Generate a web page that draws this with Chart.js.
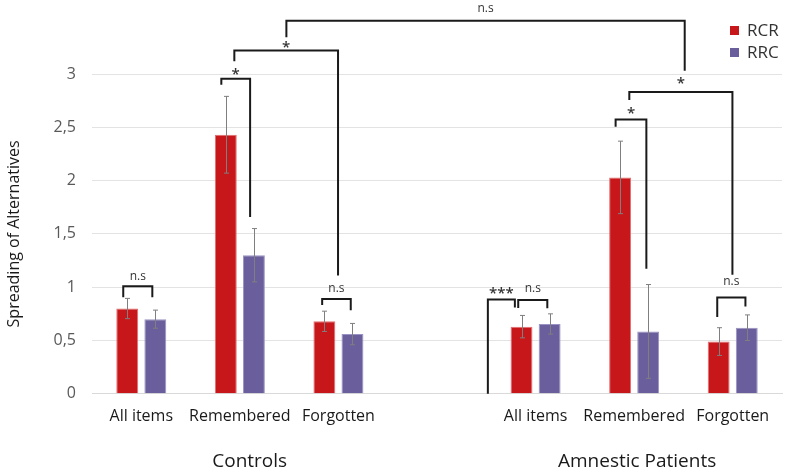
<!DOCTYPE html>
<html>
<head>
<meta charset="utf-8">
<script src="https://cdn.jsdelivr.net/npm/chart.js@4"></script>
<style>
  body { margin: 0; background: #fff; }
  #wrap { width: 787px; height: 476px; }
</style>
</head>
<body>
<div id="wrap"><canvas id="chart" width="787" height="476"></canvas></div>
<script>
const categories = ['All items', 'Remembered', 'Forgotten', '', 'All items', 'Remembered', 'Forgotten']
const groupLabels = ['Controls', 'Amnestic Patients']
const groupPositions = [1.1, 5.03]

const rcrValues = [0.80, 2.43, 0.68, null, 0.63, 2.03, 0.49]
const rcrErrors = [0.095, 0.36, 0.095, null, 0.105, 0.34, 0.13]
const rrcValues = [0.70, 1.30, 0.56, null, 0.655, 0.585, 0.62]
const rrcErrors = [0.085, 0.25, 0.10, null, 0.095, 0.44, 0.12]

// brackets: x in category units, y in data units [leftY, topY, rightY], label, label y
const brackets = [
  { x: [-0.183, 0.112], y: [0.906, 1.009, 0.906], text: 'n.s', ty: 1.10 },
  { x: [0.812, 1.104], y: [2.90, 2.956, 1.658], text: '*', ty: 3.02 },
  { x: [0.944, 1.996], y: [3.12, 3.22, 1.11], text: '*', ty: 3.27 },
  { x: [1.472, 5.513], y: [3.345, 3.50, 3.03], text: 'n.s', ty: 3.61 },
  { x: [1.835, 2.125], y: [0.834, 0.89, 0.783], text: 'n.s', ty: 0.99 },
  { x: [3.516, 3.79], y: [0, 0.884, 0.81], text: '***', ty: 0.965 },
  { x: [3.824, 4.119], y: [0.806, 0.881, 0.802], text: 'n.s', ty: 0.99 },
  { x: [4.812, 5.124], y: [2.505, 2.574, 1.173], text: '*', ty: 2.66 },
  { x: [4.951, 5.997], y: [2.756, 2.83, 1.116], text: '*', ty: 2.935 },
  { x: [5.843, 6.129], y: [0.72, 0.903, 0.82], text: 'n.s', ty: 1.05 }
]

const errorArrays = [rcrErrors, rrcErrors]

const overlayPlugin = {
  id: 'overlay',
  afterDatasetsDraw(chart) {
    const ctx = chart.ctx
    const xs = chart.scales.x
    const ys = chart.scales.y
    const x0 = xs.getPixelForValue(0)
    const step = xs.getPixelForValue(1) - x0
    const px = v => x0 + v * step

    ctx.save()
    // error bars
    ctx.strokeStyle = '#7f7f7f'
    ctx.lineWidth = 1
    chart.data.datasets.forEach((ds, d) => {
      const meta = chart.getDatasetMeta(d)
      ds.data.forEach((val, i) => {
        if (val === null) return
        const err = errorArrays[d][i]
        const x = Math.round(meta.data[i].x) + 0.5
        const top = ys.getPixelForValue(val + err)
        const bot = ys.getPixelForValue(val - err)
        ctx.beginPath()
        ctx.moveTo(x, top); ctx.lineTo(x, bot)
        ctx.moveTo(x - 2.5, top); ctx.lineTo(x + 2.5, top)
        ctx.moveTo(x - 2.5, bot); ctx.lineTo(x + 2.5, bot)
        ctx.stroke()
      })
    })

    // significance brackets
    ctx.strokeStyle = '#1a1a1a'
    ctx.lineWidth = 2
    ctx.fillStyle = '#333'
    ctx.textAlign = 'center'
    ctx.textBaseline = 'middle'
    brackets.forEach(b => {
      const xl = px(b.x[0]), xr = px(b.x[1])
      const yt = ys.getPixelForValue(b.y[1])
      ctx.beginPath()
      ctx.moveTo(xl, ys.getPixelForValue(b.y[0]))
      ctx.lineTo(xl, yt)
      ctx.lineTo(xr, yt)
      ctx.lineTo(xr, ys.getPixelForValue(b.y[2]))
      ctx.stroke()
      ctx.font = b.text === 'n.s' ? '12px "Open Sans"' : '600 15px "Open Sans"'
      ctx.fillText(b.text, (xl + xr) / 2, ys.getPixelForValue(b.ty) + (b.text === 'n.s' ? 0 : 3))
    })

    // group labels
    ctx.fillStyle = '#1a1a1a'
    ctx.font = '19px "Open Sans"'
    groupLabels.forEach((g, i) => {
      ctx.fillText(g, px(groupPositions[i]), 462)
    })

    // legend
    ctx.textAlign = 'left'
    ctx.font = '17px "Open Sans"'
    chart.data.datasets.forEach((ds, d) => {
      const y = 31 + d * 22
      ctx.fillStyle = ds.backgroundColor
      ctx.fillRect(730, y - 5, 9, 9)
      ctx.fillStyle = '#333'
      ctx.fillText(ds.label, 747, y)
    })
    ctx.restore()
  }
}

const config = {
  type: 'bar',
  data: {
    labels: categories,
    datasets: [{
      label: 'RCR',
      data: rcrValues,
      backgroundColor: '#C8171B',
      borderColor: '#E07070',
      borderWidth: 1,
      categoryPercentage: 0.57,
      barPercentage: 0.78
    },
    {
      label: 'RRC',
      data: rrcValues,
      backgroundColor: '#6A5E9C',
      borderColor: '#9A92C2',
      borderWidth: 1,
      categoryPercentage: 0.57,
      barPercentage: 0.78
    }]
  },
  options: {
    responsive: false,
    animation: false,
    layout: {
      padding: { top: 74, right: 5, bottom: 45, left: 5 }
    },
    plugins: {
      legend: { display: false },
      tooltip: { enabled: false }
    },
    scales: {
      x: {
        grid: { display: false },
        border: { color: '#d9d9d9' },
        ticks: {
          color: '#1a1a1a',
          font: { family: 'Open Sans', size: 16 },
          autoSkip: false,
          maxRotation: 0,
          padding: 5
        }
      },
      y: {
        min: 0,
        max: 3,
        afterFit: scale => { scale.width = 87 },
        grid: { color: '#e3e3e3', drawTicks: false },
        border: { display: false },
        ticks: {
          stepSize: 0.5,
          color: '#595959',
          padding: 16,
          font: { family: 'Open Sans', size: 16 },
          callback: v => String(v).replace('.', ',')
        },
        title: {
          display: true,
          text: 'Spreading of Alternatives',
          color: '#1a1a1a',
          font: { family: 'Open Sans', size: 16 },
          padding: { top: 0, bottom: 10 }
        }
      }
    }
  },
  plugins: [overlayPlugin]
}

const chartElement = document.getElementById('chart').getContext('2d')
const chart = new Chart(chartElement, config)
</script>
</body>
</html>
